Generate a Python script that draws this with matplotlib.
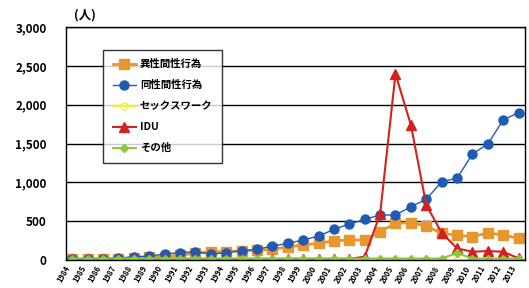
import matplotlib
matplotlib.use('Agg')
import matplotlib.pyplot as plt
from matplotlib.ticker import FuncFormatter

plt.rcParams['font.family'] = ['Noto Sans CJK JP', 'DejaVu Sans']

years = list(range(1984, 2014))

hetero = [10, 12, 15, 18, 25, 35, 45, 60, 90, 107, 110, 120, 125, 138, 170,
          193, 215, 249, 258, 258, 365, 473, 481, 438, 344, 322, 300, 352, 322, 279]
homo = [10, 15, 20, 25, 43, 52, 77, 95, 107, 77, 94, 120, 138, 180, 215,
        258, 309, 395, 464, 524, 580, 580, 687, 782, 1009, 1053, 1366, 1495, 1804, 1898]
sexwork = [2, 2, 2, 2, 2, 2, 2, 2, 2, 2, 2, 2, 2, 2, 2,
           2, 2, 2, 2, 2, 2, 2, 2, 2, 2, 2, 2, 2, 2, 2]
idu = [15, 15, 15, 15, 15, 15, 15, 15, 15, 15, 15, 15, 15, 15, 15,
       15, 15, 15, 15, 43, 593, 2397, 1740, 709, 352, 150, 107, 116, 107, 22]
other = [20, 20, 20, 20, 20, 20, 20, 20, 20, 20, 20, 20, 20, 20, 20,
         20, 20, 20, 20, 20, 20, 20, 20, 20, 20, 90, 20, 20, 20, 20]

labels = ['異性間性行為', '同性間性行為', 'セックスワーク', 'IDU', 'その他']

fig = plt.figure(figsize=(5.29, 2.88), dpi=100)
ax = fig.add_axes([0.125, 0.097, 0.867, 0.809])

ax.plot(years, hetero, color='#E8962E', marker='s', markersize=6.5, lw=2, label=labels[0])
ax.plot(years, homo, color='#1F5BB5', marker='o', markersize=6.5, lw=1, label=labels[1])
ax.plot(years, sexwork, color='#F2F230', marker='o', markersize=5, mfc='none', lw=1.5, label=labels[2])
ax.plot(years, idu, color='#D42020', marker='^', markersize=6.5, lw=1.5, label=labels[3])
ax.plot(years, other, color='#8DC63F', marker='D', markersize=4, lw=1.5, label=labels[4])

ax.set_ylim(0, 3000)
ax.set_xlim(years[0] - 0.4, years[-1] + 0.4)
ax.set_yticks(range(0, 3001, 500))
ax.yaxis.set_major_formatter(FuncFormatter(lambda v, p: f'{int(v):,}'))
ax.yaxis.grid(True, color='black', lw=1)
ax.set_axisbelow(True)
ax.tick_params(axis='y', length=0, labelsize=8.5, pad=14)
for t in ax.get_yticklabels():
    t.set_fontweight('bold')
ax.set_xticks(years)
ax.set_xticklabels([str(y) for y in years], rotation=60, fontsize=5.5,
                   fontweight='bold', ha='right')
ax.tick_params(axis='x', length=0, pad=3)
for s in ax.spines.values():
    s.set_color('black')
    s.set_linewidth(1)

fig.text(0.14, 0.935, '(人)', fontsize=9, fontweight='bold')

leg = ax.legend(loc='upper left', bbox_to_anchor=(0.07, 0.925), frameon=True,
                fancybox=False, edgecolor='black',
                prop={'weight': 'bold', 'size': 7.5}, handlelength=2.2,
                labelspacing=1.05, borderpad=0.9, handletextpad=0.4)
leg.get_frame().set_linewidth(1)

fig.savefig('out.png', dpi=100)
